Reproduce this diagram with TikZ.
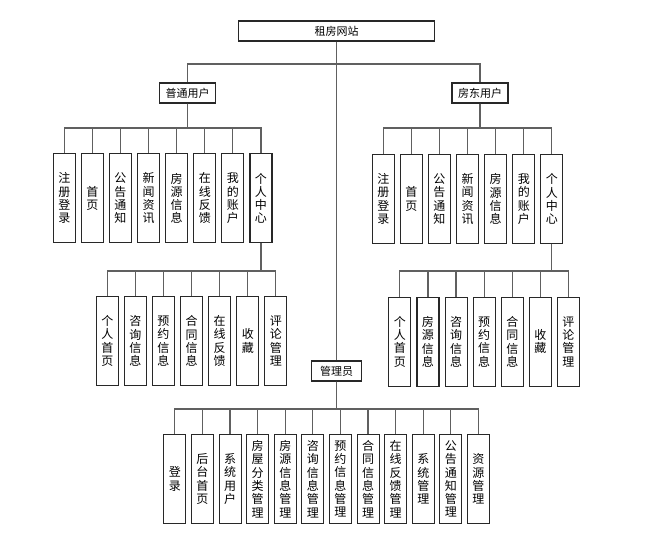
\documentclass[tikz,border=0pt]{standalone}
\usepackage{fontspec}
\newfontfamily\cjk{Noto Sans CJK SC}
\usetikzlibrary{positioning}
\definecolor{LineGray}{RGB}{96,96,96}
\definecolor{BoxBlack}{RGB}{40,40,40}
\tikzset{
  headnode/.style={draw=BoxBlack,line width=1.1pt,fill=white,minimum height=20pt,inner sep=1pt,font=\cjk\fontsize{11}{12}\selectfont},
  itemnode/.style={draw=BoxBlack,line width=1.1pt,fill=white,minimum width=22pt,minimum height=89pt,inner sep=0pt,align=center,font=\cjk\fontsize{12}{13.3}\selectfont},
  link/.style={draw=LineGray,line width=1.2pt}
}

\begin{document}
\begin{tikzpicture}[x=1pt,y=-1pt,node distance=5pt]
\useasboundingbox (0,0) rectangle (660,534);
% roles
\node[headnode, minimum width=196pt] (site) at (336.5,31) {租房网站};
\node[headnode, minimum width=56pt] (user) at (187.5,93) {普通用户};
\node[headnode, minimum width=56pt] (owner) at (480,93) {房东用户};
\node[headnode, minimum width=50pt] (admin) at (336.5,371) {管理员};
% bar heights
\coordinate (topbar) at (0,64);
\coordinate (ubar) at (0,128);
\coordinate (obar) at (0,128);
\coordinate (ucbar) at (0,271);
\coordinate (ocbar) at (0,271);
\coordinate (abar) at (0,409);
% normal user
\node[itemnode, anchor=north west] (u1) at (52.7,153.3) {注\\册\\登\\录};
\node[itemnode, right=of u1] (u2) {首\\页};
\node[itemnode, right=of u2] (u3) {公\\告\\通\\知};
\node[itemnode, right=of u3] (u4) {新\\闻\\资\\讯};
\node[itemnode, right=of u4] (u5) {房\\源\\信\\息};
\node[itemnode, right=of u5] (u6) {在\\线\\反\\馈};
\node[itemnode, right=of u6] (u7) {我\\的\\账\\户};
\node[itemnode, right=of u7] (u8) {个\\人\\中\\心};
\node[itemnode, anchor=north west] (uc1) at (95.7,296) {个\\人\\首\\页};
\node[itemnode, right=of uc1] (uc2) {咨\\询\\信\\息};
\node[itemnode, right=of uc2] (uc3) {预\\约\\信\\息};
\node[itemnode, right=of uc3] (uc4) {合\\同\\信\\息};
\node[itemnode, right=of uc4] (uc5) {在\\线\\反\\馈};
\node[itemnode, right=of uc5] (uc6) {收\\藏};
\node[itemnode, right=of uc6] (uc7) {评\\论\\管\\理};
% landlord
\node[itemnode, anchor=north west] (o1) at (371.7,154) {注\\册\\登\\录};
\node[itemnode, right=of o1] (o2) {首\\页};
\node[itemnode, right=of o2] (o3) {公\\告\\通\\知};
\node[itemnode, right=of o3] (o4) {新\\闻\\资\\讯};
\node[itemnode, right=of o4] (o5) {房\\源\\信\\息};
\node[itemnode, right=of o5] (o6) {我\\的\\账\\户};
\node[itemnode, right=of o6] (o7) {个\\人\\中\\心};
\node[itemnode, anchor=north west] (oc1) at (388.3,296.7) {个\\人\\首\\页};
\node[itemnode, right=of oc1] (oc2) {房\\源\\信\\息};
\node[itemnode, right=of oc2] (oc3) {咨\\询\\信\\息};
\node[itemnode, right=of oc3] (oc4) {预\\约\\信\\息};
\node[itemnode, right=of oc4] (oc5) {合\\同\\信\\息};
\node[itemnode, right=of oc5] (oc6) {收\\藏};
\node[itemnode, right=of oc6] (oc7) {评\\论\\管\\理};
% admin
\node[itemnode, anchor=north west] (a1) at (163.3,434) {登\\录};
\node[itemnode, right=4.5pt of a1] (a2) {后\\台\\首\\页};
\node[itemnode, right=4.5pt of a2] (a3) {系\\统\\用\\户};
\node[itemnode, right=4.5pt of a3] (a4) {房\\屋\\分\\类\\管\\理};
\node[itemnode, right=4.5pt of a4] (a5) {房\\源\\信\\息\\管\\理};
\node[itemnode, right=4.5pt of a5] (a6) {咨\\询\\信\\息\\管\\理};
\node[itemnode, right=4.5pt of a6] (a7) {预\\约\\信\\息\\管\\理};
\node[itemnode, right=4.5pt of a7] (a8) {合\\同\\信\\息\\管\\理};
\node[itemnode, right=4.5pt of a8] (a9) {在\\线\\反\\馈\\管\\理};
\node[itemnode, right=4.5pt of a9] (a10) {系\\统\\管\\理};
\node[itemnode, right=4.5pt of a10] (a11) {公\\告\\通\\知\\管\\理};
\node[itemnode, right=4.5pt of a11] (a12) {资\\源\\管\\理};
% links
\draw[link] (site.south) -- (admin.north);
\draw[link] (site.south) |- (user.north |- topbar) -- (user.north);
\draw[link] (site.south) |- (owner.north |- topbar) -- (owner.north);
\draw[link] (user.south) |- (u1.north |- ubar) -- (u1.north);
\draw[link] (user.south) |- (u2.north |- ubar) -- (u2.north);
\draw[link] (user.south) |- (u3.north |- ubar) -- (u3.north);
\draw[link] (user.south) |- (u4.north |- ubar) -- (u4.north);
\draw[link] (user.south) |- (u5.north |- ubar) -- (u5.north);
\draw[link] (user.south) |- (u6.north |- ubar) -- (u6.north);
\draw[link] (user.south) |- (u7.north |- ubar) -- (u7.north);
\draw[link] (user.south) |- (u8.north |- ubar) -- (u8.north);
\draw[link] (u8.south) |- (uc1.north |- ucbar) -- (uc1.north);
\draw[link] (u8.south) |- (uc2.north |- ucbar) -- (uc2.north);
\draw[link] (u8.south) |- (uc3.north |- ucbar) -- (uc3.north);
\draw[link] (u8.south) |- (uc4.north |- ucbar) -- (uc4.north);
\draw[link] (u8.south) |- (uc5.north |- ucbar) -- (uc5.north);
\draw[link] (u8.south) |- (uc6.north |- ucbar) -- (uc6.north);
\draw[link] (u8.south) |- (uc7.north |- ucbar) -- (uc7.north);
\draw[link] (owner.south) |- (o1.north |- obar) -- (o1.north);
\draw[link] (owner.south) |- (o2.north |- obar) -- (o2.north);
\draw[link] (owner.south) |- (o3.north |- obar) -- (o3.north);
\draw[link] (owner.south) |- (o4.north |- obar) -- (o4.north);
\draw[link] (owner.south) |- (o5.north |- obar) -- (o5.north);
\draw[link] (owner.south) |- (o6.north |- obar) -- (o6.north);
\draw[link] (owner.south) |- (o7.north |- obar) -- (o7.north);
\draw[link] (o7.south) |- (oc1.north |- ocbar) -- (oc1.north);
\draw[link] (o7.south) |- (oc2.north |- ocbar) -- (oc2.north);
\draw[link] (o7.south) |- (oc3.north |- ocbar) -- (oc3.north);
\draw[link] (o7.south) |- (oc4.north |- ocbar) -- (oc4.north);
\draw[link] (o7.south) |- (oc5.north |- ocbar) -- (oc5.north);
\draw[link] (o7.south) |- (oc6.north |- ocbar) -- (oc6.north);
\draw[link] (o7.south) |- (oc7.north |- ocbar) -- (oc7.north);
\draw[link] (admin.south) |- (a1.north |- abar) -- (a1.north);
\draw[link] (admin.south) |- (a2.north |- abar) -- (a2.north);
\draw[link] (admin.south) |- (a3.north |- abar) -- (a3.north);
\draw[link] (admin.south) |- (a4.north |- abar) -- (a4.north);
\draw[link] (admin.south) |- (a5.north |- abar) -- (a5.north);
\draw[link] (admin.south) |- (a6.north |- abar) -- (a6.north);
\draw[link] (admin.south) |- (a7.north |- abar) -- (a7.north);
\draw[link] (admin.south) |- (a8.north |- abar) -- (a8.north);
\draw[link] (admin.south) |- (a9.north |- abar) -- (a9.north);
\draw[link] (admin.south) |- (a10.north |- abar) -- (a10.north);
\draw[link] (admin.south) |- (a11.north |- abar) -- (a11.north);
\draw[link] (admin.south) |- (a12.north |- abar) -- (a12.north);
\end{tikzpicture}
\end{document}
